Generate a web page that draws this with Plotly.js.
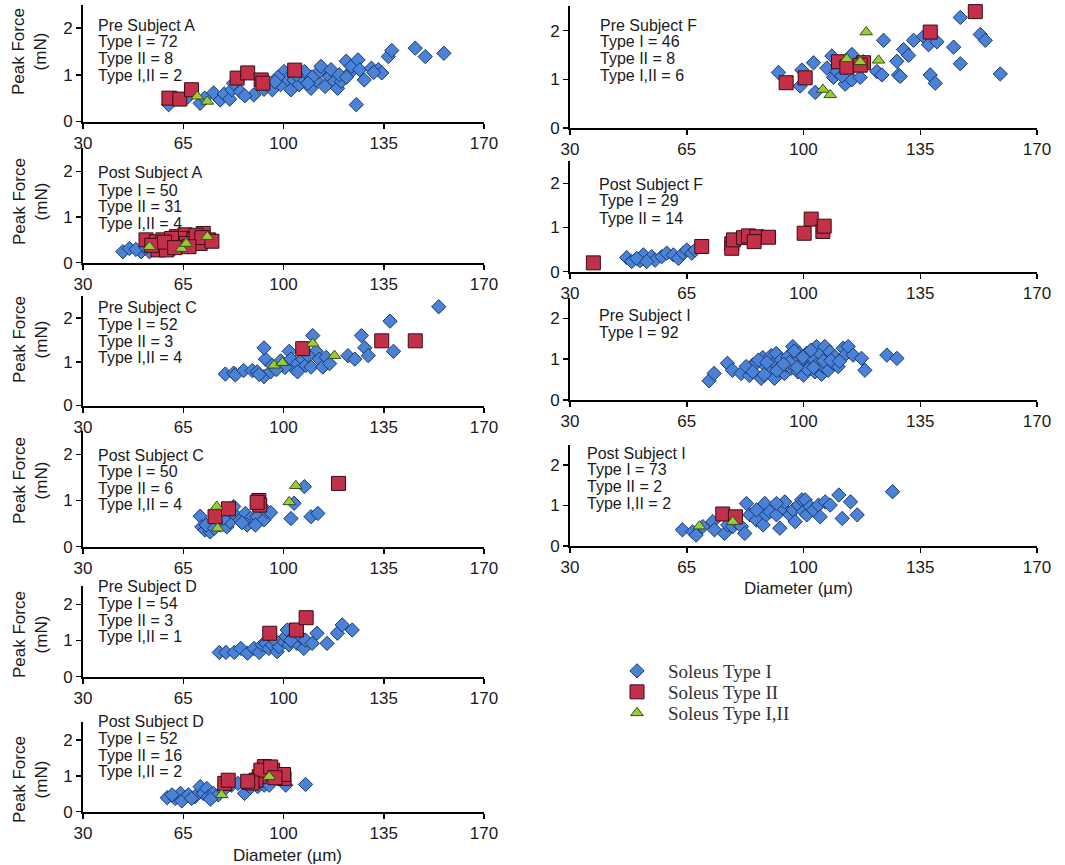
<!DOCTYPE html>
<html>
<head>
<meta charset="utf-8">
<script src="https://cdn.plot.ly/plotly-3.0.1.min.js"></script>
<style>html,body{margin:0;padding:0;background:#fff;}#chart{width:1065px;height:865px;}</style>
</head>
<body>
<div id="chart"></div>
<script>
// ---------- DATA ----------
const xTickVals = [30, 65, 100, 135, 170];
const yTickVals = [0, 1, 2];
const seriesNames = ["Soleus Type I", "Soleus Type II", "Soleus Type I,II"];

// Pre Subject A
const preA_I_d = [59.9,62.6,70.9,75.6,77.9,79.3,81.2,82.0,82.6,84.9,89.6,93.2,96.1,99.0,100.2,101.4,102.6,103.7,105.5,106.7,107.3,109.6,111.4,112.5,113.1,116.0,116.6,117.8,118.9,120.2,121.9,123.1,123.7,126.0,126.6,125.4,128.2,130.7,133.1,134.3,136.6,137.8,146.0,149.5,156.0,66.5,72.5,86.5,98.0,104.5,110.0,114.5,119.5,122.0,131.5,108.5,97.0];
const preA_I_f = [0.36,0.50,0.39,0.61,0.46,0.59,0.48,0.68,0.82,0.64,0.57,0.69,0.68,0.79,1.07,0.91,0.68,0.89,0.79,0.93,1.07,0.71,0.89,1.07,1.18,0.96,1.11,0.86,0.71,0.86,1.29,1.04,1.18,1.32,1.11,0.36,0.89,1.14,1.11,1.04,1.39,1.52,1.57,1.39,1.46,0.52,0.50,0.55,0.95,1.00,0.95,0.75,1.00,0.95,1.05,0.82,0.85];
const preA_II_d = [60.0,63.8,67.9,83.8,87.5,92.2,92.8,103.9];
const preA_II_f = [0.50,0.48,0.68,0.93,1.04,0.89,0.82,1.10];
const preA_III_d = [69.9,73.4];
const preA_III_f = [0.54,0.43];

// Post Subject A
const postA_I_d = [43.9,46.2,50.3,53.2,55.6,59.1,63.8,65.6,48.5,57.5,61.5,68.5,70.5,52.0];
const postA_I_f = [0.24,0.31,0.24,0.24,0.35,0.42,0.35,0.46,0.29,0.30,0.28,0.40,0.52,0.33];
const postA_II_d = [52.0,55.6,57.9,59.7,61.5,62.6,64.4,65.6,67.3,68.5,72.0,73.8,56.2,59.1,63.8,70.9,60.9,66.1,54.0,69.5,71.5,58.5,62.0,67.0,75.0];
const postA_II_f = [0.50,0.46,0.50,0.35,0.42,0.57,0.50,0.61,0.53,0.50,0.64,0.50,0.28,0.28,0.53,0.42,0.53,0.42,0.38,0.60,0.55,0.45,0.33,0.35,0.47];
const postA_III_d = [53.2,64.4,66.0,73.4];
const postA_III_f = [0.35,0.31,0.42,0.57];

// Pre Subject C
const preC_I_d = [79.7,82.6,83.2,86.1,89.1,90.8,93.2,93.7,93.2,95.5,96.1,99.0,102.0,102.6,103.7,104.9,106.7,107.8,109.6,110.2,111.4,112.5,113.7,114.9,116.1,122.5,124.9,127.2,128.4,129.6,137.2,138.4,154.2,104.9,108.5,100.5,97.5,91.5];
const preC_I_f = [0.72,0.74,0.70,0.80,0.80,0.77,0.66,1.06,1.32,0.77,0.92,1.02,1.24,1.06,0.85,0.96,1.06,0.92,0.88,1.60,1.24,1.06,0.88,1.10,0.96,1.14,1.06,1.60,1.32,1.14,1.93,1.24,2.26,0.77,1.15,0.87,0.82,0.71];
const preC_II_d = [106.7,134.3,146.0];
const preC_II_f = [1.30,1.48,1.48];
const preC_III_d = [96.7,99.6,110.2,117.8];
const preC_III_f = [0.92,0.98,1.42,1.14];

// Post Subject C
const postC_I_d = [70.9,71.5,72.6,74.4,75.6,77.9,80.2,81.4,82.6,82.6,84.9,86.7,88.5,89.7,90.8,93.2,94.3,95.5,102.6,103.7,107.3,109.6,112.0,73.0,75.9,77.9,87.3,90.2,79.0,85.5];
const postC_I_f = [0.66,0.43,0.36,0.32,0.54,0.47,0.43,0.54,0.72,0.87,0.58,0.72,0.61,0.51,0.65,0.58,0.76,0.74,0.61,0.94,1.30,0.65,0.72,0.47,0.40,0.72,0.47,0.47,0.62,0.52];
const postC_II_d = [76.1,80.8,91.4,91.7,119.2,90.8];
const postC_II_f = [0.65,0.82,1.00,0.90,1.37,0.96];
const postC_III_d = [76.7,77.0,102.0,104.3];
const postC_III_f = [0.87,0.40,0.97,1.32];

// Pre Subject D
const preD_I_d = [77.6,79.9,82.8,85.1,87.4,89.7,91.5,92.6,93.8,94.9,96.1,97.8,98.4,99.6,100.8,101.3,101.9,103.6,104.7,105.9,107.1,107.7,110.0,111.7,115.2,118.8,120.5,124.0,96.5,102.5];
const preD_I_f = [0.67,0.67,0.67,0.78,0.65,0.78,0.67,0.88,0.92,0.78,0.88,0.69,0.83,1.01,1.11,1.29,0.88,1.11,0.92,1.11,0.78,1.01,0.92,1.20,0.92,1.20,1.43,1.29,1.05,1.00];
const preD_II_d = [95.2,104.5,107.9];
const preD_II_f = [1.20,1.29,1.63];
const preD_III_d = [];
const preD_III_f = [];

// Post Subject D
const postD_I_d = [59.4,62.2,64.0,64.5,66.8,69.1,70.9,72.0,73.2,73.8,75.5,77.2,81.8,84.1,86.4,91.0,93.3,95.0,100.8,107.7,61.1,67.9,74.5,79.0,88.5];
const postD_I_f = [0.39,0.37,0.51,0.30,0.47,0.42,0.70,0.51,0.65,0.42,0.51,0.47,0.74,0.79,0.51,0.70,0.74,0.74,0.74,0.76,0.47,0.37,0.35,0.60,0.68];
const postD_II_d = [79.5,80.7,88.1,91.5,93.3,94.4,96.2,98.5,100.2,100.0,90.4,92.1,89.0,95.5,97.0,87.5];
const postD_II_f = [0.79,0.88,0.82,0.98,1.26,1.12,1.16,1.02,0.93,1.04,0.88,1.16,0.80,1.25,0.95,0.85];
const postD_III_d = [78.4,95.0];
const postD_III_f = [0.47,0.98];

// Pre Subject F
const preF_I_d = [92.5,99.0,99.5,103.0,103.5,107.0,108.5,109.0,110.0,112.5,113.0,114.5,114.5,117.0,122.0,123.5,124.0,128.0,128.5,129.0,130.0,131.5,133.0,136.0,137.5,138.0,139.5,140.0,145.0,147.0,147.0,153.0,154.5,159.0,111.5,118.0];
const preF_I_f = [1.14,0.86,1.19,1.34,0.73,1.23,1.48,1.04,1.16,0.90,1.27,1.51,0.99,1.04,1.16,1.09,1.80,1.37,1.09,1.06,1.61,1.49,1.80,1.88,1.71,1.09,0.92,1.77,1.66,1.32,2.27,1.92,1.80,1.11,1.07,1.36];
const preF_II_d = [94.8,100.5,110.5,113.0,118.0,117.0,138.0,151.5];
const preF_II_f = [0.93,1.03,1.36,1.25,1.34,1.29,1.97,2.39];
const preF_III_d = [105.8,108.0,113.0,118.8,122.5,117.0];
const preF_III_f = [0.79,0.68,1.42,1.97,1.39,1.36];

// Post Subject F
const postF_I_d = [47.0,48.5,51.0,52.0,54.5,55.5,57.5,59.0,61.0,62.5,64.0,65.0,66.5,67.5,50.0,53.0];
const postF_I_f = [0.32,0.23,0.25,0.38,0.34,0.26,0.34,0.42,0.38,0.30,0.42,0.49,0.42,0.49,0.30,0.23];
const postF_II_d = [37.0,69.5,78.5,78.5,79.0,82.0,83.5,86.0,85.2,89.5,100.2,102.3,105.8,106.2];
const postF_II_f = [0.20,0.57,0.63,0.53,0.72,0.77,0.81,0.79,0.68,0.78,0.87,1.19,0.91,1.03];
const postF_III_d = [];
const postF_III_f = [];

// Pre Subject I
const preI_I_d = [71.7,73.2,77.2,78.7,81.3,83.8,84.8,85.8,87.3,87.8,88.8,89.8,90.3,91.3,91.3,91.8,92.8,93.3,94.3,94.8,95.3,96.3,96.8,97.8,98.3,98.8,99.3,100.0,100.4,100.9,101.9,102.9,103.4,103.9,104.4,104.9,105.4,105.9,106.4,106.9,107.4,107.9,108.9,109.4,110.4,111.9,112.4,113.4,114.9,117.4,118.4,125.0,128.0,82.8,84.8,86.5,89.0,92.0,95.8,97.2,99.8,101.2,102.2,103.0,106.0,108.2,110.8,88.2,94.0,98.0];
const preI_I_f = [0.47,0.65,0.90,0.73,0.65,0.60,0.86,0.90,0.53,1.04,0.82,0.71,1.09,0.53,0.90,1.14,0.78,0.98,0.65,0.86,1.06,0.78,1.31,0.98,0.69,1.14,0.86,0.61,0.94,1.14,0.82,1.02,0.69,1.31,0.90,1.14,0.63,0.82,1.31,1.02,0.73,1.18,0.90,1.06,0.82,1.27,1.10,1.31,1.10,1.02,0.73,1.10,1.02,0.82,0.69,0.98,0.92,0.72,0.92,1.20,1.05,0.75,1.22,0.80,0.96,0.97,0.95,0.62,0.88,0.80];
const preI_II_d = [];
const preI_II_f = [];
const preI_III_d = [];
const preI_III_f = [];

// Post Subject I
const postI_I_d = [63.7,66.8,67.8,69.8,72.8,73.3,76.3,77.3,78.8,79.8,81.4,82.4,82.9,83.9,85.9,87.9,88.4,88.9,89.9,91.9,92.9,93.9,94.4,95.9,96.9,97.5,98.5,99.5,100.0,100.5,101.0,102.0,103.0,104.5,105.0,106.5,108.0,110.6,111.6,114.1,116.1,126.7,85.9,91.9];
const postI_I_f = [0.40,0.35,0.27,0.48,0.60,0.40,0.31,0.52,0.48,0.60,0.48,0.31,1.05,0.77,0.64,0.52,1.05,0.77,0.85,0.77,0.44,0.93,1.09,0.77,0.89,0.60,1.01,1.14,0.85,1.14,0.77,0.97,0.89,1.01,0.72,1.09,1.01,1.26,0.68,1.09,0.77,1.34,0.89,1.05];
const postI_II_d = [75.8,79.6];
const postI_II_f = [0.79,0.72];
const postI_III_d = [68.8,78.8];
const postI_III_f = [0.49,0.60];

// Panel labels
const panelTitles = ["Pre Subject A","Post Subject A","Pre Subject C","Post Subject C","Pre Subject D","Post Subject D","Pre Subject F","Post Subject F","Pre Subject I","Post Subject I"];
const countI = [72,50,52,50,54,52,46,29,92,73];
const countII = [8,31,3,6,3,16,8,14,null,2];
const countIII = [2,4,4,4,1,2,6,null,null,2];

// ---------- LAYOUT GEOMETRY (pixels) ----------
const W = 1065, H = 865;
const colX = [[83,484],[570,1037]];
const geo = [
  {c:0, b:121.5, u:46.7, tx:96, ty:[25,41.7,58.3,75], yt:52},
  {c:0, b:262.7, u:45.7, tx:96, ty:[173,190,206,223], yt:202},
  {c:0, b:405.5, u:43.7, tx:96, ty:[307.7,324.3,341,357.7], yt:340},
  {c:0, b:546.7, u:46.2, tx:96, ty:[455,471.7,488,504.3], yt:481},
  {c:0, b:676.7, u:36.2, tx:96, ty:[586.7,603.3,620,636.7], yt:635},
  {c:0, b:811.7, u:35.8, tx:96, ty:[721.7,738.3,755,771.7], yt:780},
  {c:1, b:128, u:48.7, tx:598, ty:[25,41.7,58.3,75], yt:null},
  {c:1, b:271.7, u:44.2, tx:597, ty:[184,201,218], yt:null},
  {c:1, b:400, u:40.8, tx:597, ty:[315,332.7], yt:null},
  {c:1, b:546, u:40.5, tx:585, ty:[453.3,470,486.7,503.3], yt:null}
];

const panelData = [
  [preA_I_d,preA_I_f,preA_II_d,preA_II_f,preA_III_d,preA_III_f],
  [postA_I_d,postA_I_f,postA_II_d,postA_II_f,postA_III_d,postA_III_f],
  [preC_I_d,preC_I_f,preC_II_d,preC_II_f,preC_III_d,preC_III_f],
  [postC_I_d,postC_I_f,postC_II_d,postC_II_f,postC_III_d,postC_III_f],
  [preD_I_d,preD_I_f,preD_II_d,preD_II_f,preD_III_d,preD_III_f],
  [postD_I_d,postD_I_f,postD_II_d,postD_II_f,postD_III_d,postD_III_f],
  [preF_I_d,preF_I_f,preF_II_d,preF_II_f,preF_III_d,preF_III_f],
  [postF_I_d,postF_I_f,postF_II_d,postF_II_f,postF_III_d,postF_III_f],
  [preI_I_d,preI_I_f,preI_II_d,preI_II_f,preI_III_d,preI_III_f],
  [postI_I_d,postI_I_f,postI_II_d,postI_II_f,postI_III_d,postI_III_f]
];

const markerStyles = [
  {symbol:'diamond', size:11, color:'#4A82D8', line:{color:'#1C3868', width:1}},
  {symbol:'square', size:14, color:'#C3304A', line:{color:'#3A0C14', width:1}},
  {symbol:'triangle-up', size:11, color:'#9CCB3A', line:{color:'#35520F', width:1}}
];

const YMAX = 2.5;
const traces = [];
const legendNames = ['legend', 'legend2', 'legend3'];
const legendTops = [652, 673, 694];
const legendFont = {family: 'Liberation Serif, Times New Roman, serif', size: 19, color: '#333'};

const layout = {
  width: W, height: H,
  margin: {l:0, r:0, t:0, b:0},
  paper_bgcolor: '#ffffff', plot_bgcolor: 'rgba(0,0,0,0)',
  font: {family: 'Liberation Sans, Arial, sans-serif', color: '#1a1a1a'},
  showlegend: true,
  annotations: []
};
legendNames.forEach((ln, k) => {
  layout[ln] = {
    x: 606/W, y: 1 - legendTops[k]/H, xanchor: 'left', yanchor: 'top',
    font: legendFont, bgcolor: 'rgba(0,0,0,0)', itemwidth: 52, borderwidth: 0
  };
});

const px = (p) => p / W;
const py = (p) => 1 - p / H;

geo.forEach((g, i) => {
  const n = i + 1;
  const xa = n === 1 ? 'xaxis' : 'xaxis' + n;
  const ya = n === 1 ? 'yaxis' : 'yaxis' + n;
  const xr = n === 1 ? 'x' : 'x' + n;
  const yr = n === 1 ? 'y' : 'y' + n;
  const top = g.b - YMAX * g.u;
  const axCommon = {
    showline: true, linecolor: '#000', linewidth: 2,
    ticks: 'outside', ticklen: 5, tickwidth: 1.5, tickcolor: '#000',
    showgrid: false, zeroline: false, fixedrange: true,
    tickfont: {family: 'Liberation Sans, Arial, sans-serif', size: 17, color: '#1a1a1a'}
  };
  layout[xa] = Object.assign({}, axCommon, {
    domain: [px(colX[g.c][0]), px(colX[g.c][1])],
    range: [30, 170], tickmode: 'array', tickvals: xTickVals,
    anchor: yr
  });
  layout[ya] = Object.assign({}, axCommon, {
    domain: [py(g.b), py(top)],
    range: [0, YMAX], tickmode: 'array', tickvals: yTickVals,
    anchor: xr
  });
  const d = panelData[i];
  for (let k = 0; k < 3; k++) {
    traces.push({
      type: 'scatter', mode: 'markers',
      x: d[2*k], y: d[2*k+1],
      xaxis: xr, yaxis: yr,
      name: seriesNames[k],
      legend: legendNames[k],
      showlegend: i === 0,
      marker: markerStyles[k],
      cliponaxis: false
    });
  }
  const lines = [panelTitles[i], 'Type I = ' + countI[i]];
  if (countII[i] !== null) lines.push('Type II = ' + countII[i]);
  if (countIII[i] !== null) lines.push('Type I,II = ' + countIII[i]);
  lines.forEach((t, j) => {
    layout.annotations.push({
      text: t, xref: 'paper', yref: 'paper',
      x: px(g.tx), y: py(g.ty[j]), xanchor: 'left', yanchor: 'middle',
      showarrow: false,
      font: {family: 'Liberation Sans, Arial, sans-serif', size: 16, color: '#1a1a1a'}
    });
  });
  if (g.yt !== null) {
    layout.annotations.push({
      text: 'Peak Force<br>(mN)', xref: 'paper', yref: 'paper',
      x: px(30), y: py(g.yt), xanchor: 'center', yanchor: 'middle',
      textangle: -90, showarrow: false,
      font: {family: 'Liberation Sans, Arial, sans-serif', size: 17, color: '#1a1a1a'}
    });
  }
});

[[287, 855], [798, 588]].forEach(p => {
  layout.annotations.push({
    text: 'Diameter (\u00b5m)', xref: 'paper', yref: 'paper',
    x: px(p[0]), y: py(p[1]), xanchor: 'center', yanchor: 'middle',
    showarrow: false,
    font: {family: 'Liberation Sans, Arial, sans-serif', size: 17, color: '#1a1a1a'}
  });
});

Plotly.newPlot('chart', traces, layout, {staticPlot: true, displayModeBar: false});
</script>
</body>
</html>
